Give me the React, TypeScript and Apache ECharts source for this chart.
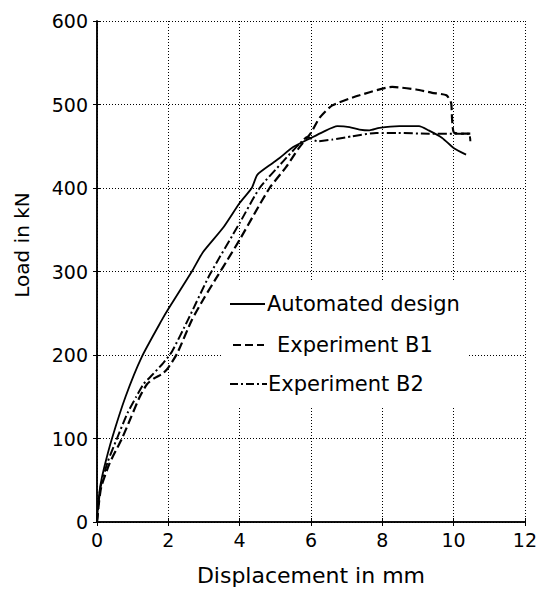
import React, { useEffect, useRef } from "react";
import * as echarts from "echarts";

// X tick values / Y tick values
const xTicks = [0, 2, 4, 6, 8, 10, 12];
const yTicks = [0, 100, 200, 300, 400, 500, 600];

const seriesNames = ["Automated design", "Experiment B1", "Experiment B2"];

// Automated design (solid)
const autoX = [0, 0.04, 0.1, 0.2, 0.42, 0.8, 1.26, 1.82, 2.0, 2.66, 2.97, 3.53, 4.0, 4.34, 4.5, 4.93, 5.12, 5.5, 6.0, 6.33, 6.74, 7.08, 7.36, 7.64, 7.92, 8.48, 9.03, 9.3, 9.68, 10.0, 10.35];
const autoY = [0, 25, 45, 65, 100, 150, 198, 242, 255, 300, 323, 352, 382, 400, 416, 430, 436, 449, 460, 467, 474, 473, 470, 469, 472, 474, 474, 469, 460, 448, 440];

// Experiment B1 (dashed)
const b1X = [0, 0.06, 0.12, 0.35, 0.7, 0.95, 1.2, 1.4, 1.6, 1.85, 2.0, 2.25, 2.66, 3.0, 3.4, 3.66, 4.0, 4.4, 4.84, 5.3, 5.68, 6.0, 6.24, 6.6, 7.36, 8.28, 8.95, 9.4, 9.8, 9.93, 9.96, 10.02, 10.5];
const b1Y = [0, 25, 42, 70, 100, 125, 150, 165, 172, 178, 185, 202, 242, 268, 296, 314, 338, 368, 400, 425, 449, 466, 484, 499, 511, 521, 518, 514, 511, 502, 481, 466, 465];

// Experiment B2 (dash-dot)
const b2X = [0, 0.05, 0.1, 0.3, 0.56, 0.85, 1.1, 1.3, 1.5, 1.85, 2.1, 2.55, 3.16, 4.0, 4.56, 5.2, 5.7, 5.9, 6.18, 6.6, 7.16, 7.83, 8.4, 9.3, 10.0, 10.43, 10.47];
const b2Y = [0, 25, 42, 72, 100, 130, 150, 165, 174, 190, 204, 242, 296, 358, 400, 431, 454, 461, 456, 458, 462, 466, 466, 465, 465, 465, 456];

const FONT = "DejaVu Sans";

function pairs(xs: number[], ys: number[]) {
  return xs.map((x, i) => [x, ys[i]]);
}

export default function App() {
  const ref = useRef<HTMLDivElement>(null);

  useEffect(() => {
    if (!ref.current) return;
    const chart = echarts.init(ref.current, null, { renderer: "svg" });

    const axisCommon = {
      axisLine: { show: true, lineStyle: { color: "#000", width: 1.5 } },
      axisTick: { show: true, inside: true, length: 4, lineStyle: { color: "#000", width: 1 } },
    };

    const dashStyles: any[] = ["solid", [9, 4], [9, 3, 2, 3]];
    const widths = [1.8, 2.2, 2];

    chart.setOption({
      animation: false,
      backgroundColor: "#fff",
      grid: { left: 97, right: 14, top: 21, bottom: 69, containLabel: false },
      xAxis: [
        {
          type: "value",
          min: xTicks[0],
          max: xTicks[xTicks.length - 1],
          interval: 2,
          position: "bottom",
          name: "Displacement in mm",
          nameLocation: "middle",
          nameGap: 42,
          nameTextStyle: { fontFamily: FONT, fontSize: 22, color: "#000" },
          ...axisCommon,
          axisLabel: { fontFamily: FONT, fontSize: 19, color: "#000", margin: 8 },
          splitLine: { show: true, lineStyle: { color: "#000", width: 1, type: [1, 2] } },
        },
        {
          type: "value",
          min: xTicks[0],
          max: xTicks[xTicks.length - 1],
          interval: 2,
          position: "top",
          ...axisCommon,
          axisLabel: { show: false },
          splitLine: { show: false },
        },
      ],
      yAxis: [
        {
          type: "value",
          min: yTicks[0],
          max: yTicks[yTicks.length - 1],
          interval: 100,
          position: "left",
          ...axisCommon,
          axisLabel: { fontFamily: FONT, fontSize: 19, color: "#000", margin: 9 },
          splitLine: { show: true, lineStyle: { color: "#000", width: 1, type: [1, 2] } },
        },
        {
          type: "value",
          min: yTicks[0],
          max: yTicks[yTicks.length - 1],
          interval: 100,
          position: "right",
          ...axisCommon,
          axisLabel: { show: false },
          splitLine: { show: false },
        },
      ],
      series: [
        { xs: autoX, ys: autoY },
        { xs: b1X, ys: b1Y },
        { xs: b2X, ys: b2Y },
      ].map((s, i) => ({
        name: seriesNames[i],
        type: "line",
        data: pairs(s.xs, s.ys),
        symbol: "none",
        smooth: 0.2,
        z: 3,
        lineStyle: { color: "#000", width: widths[i], type: dashStyles[i] },
      })),
      graphic: [
        {
          type: "text",
          x: 22,
          y: 245,
          rotation: Math.PI / 2,
          style: {
            text: "Load in kN",
            fontFamily: FONT,
            fontSize: 20,
            fill: "#000",
            textAlign: "center",
            textVerticalAlign: "middle",
          },
        },
        {
          type: "rect",
          shape: { x: 222, y: 282, width: 246, height: 126 },
          style: { fill: "#fff" },
          z: 10,
        },
        {
          type: "line",
          shape: { x1: 230, y1: 304, x2: 265, y2: 304 },
          style: { stroke: "#000", lineWidth: 1.8 },
          z: 11,
        },
        {
          type: "line",
          shape: { x1: 233, y1: 345, x2: 264, y2: 345 },
          style: { stroke: "#000", lineWidth: 2.2, lineDash: [8, 4] },
          z: 11,
        },
        {
          type: "line",
          shape: { x1: 230, y1: 384, x2: 267, y2: 384 },
          style: { stroke: "#000", lineWidth: 2, lineDash: [8, 3, 2, 3] },
          z: 11,
        },
        {
          type: "text",
          x: 267,
          y: 304,
          z: 11,
          style: { text: seriesNames[0], fontFamily: FONT, fontSize: 21, fill: "#000", textVerticalAlign: "middle" },
        },
        {
          type: "text",
          x: 277,
          y: 345,
          z: 11,
          style: { text: seriesNames[1], fontFamily: FONT, fontSize: 21, fill: "#000", textVerticalAlign: "middle" },
        },
        {
          type: "text",
          x: 268,
          y: 384,
          z: 11,
          style: { text: seriesNames[2], fontFamily: FONT, fontSize: 21, fill: "#000", textVerticalAlign: "middle" },
        },
      ],
    });

    return () => chart.dispose();
  }, []);

  return (
    <div
      ref={ref}
      style={{ position: "absolute", left: 0, top: 0, width: 540, height: 591, background: "#fff" }}
    />
  );
}
